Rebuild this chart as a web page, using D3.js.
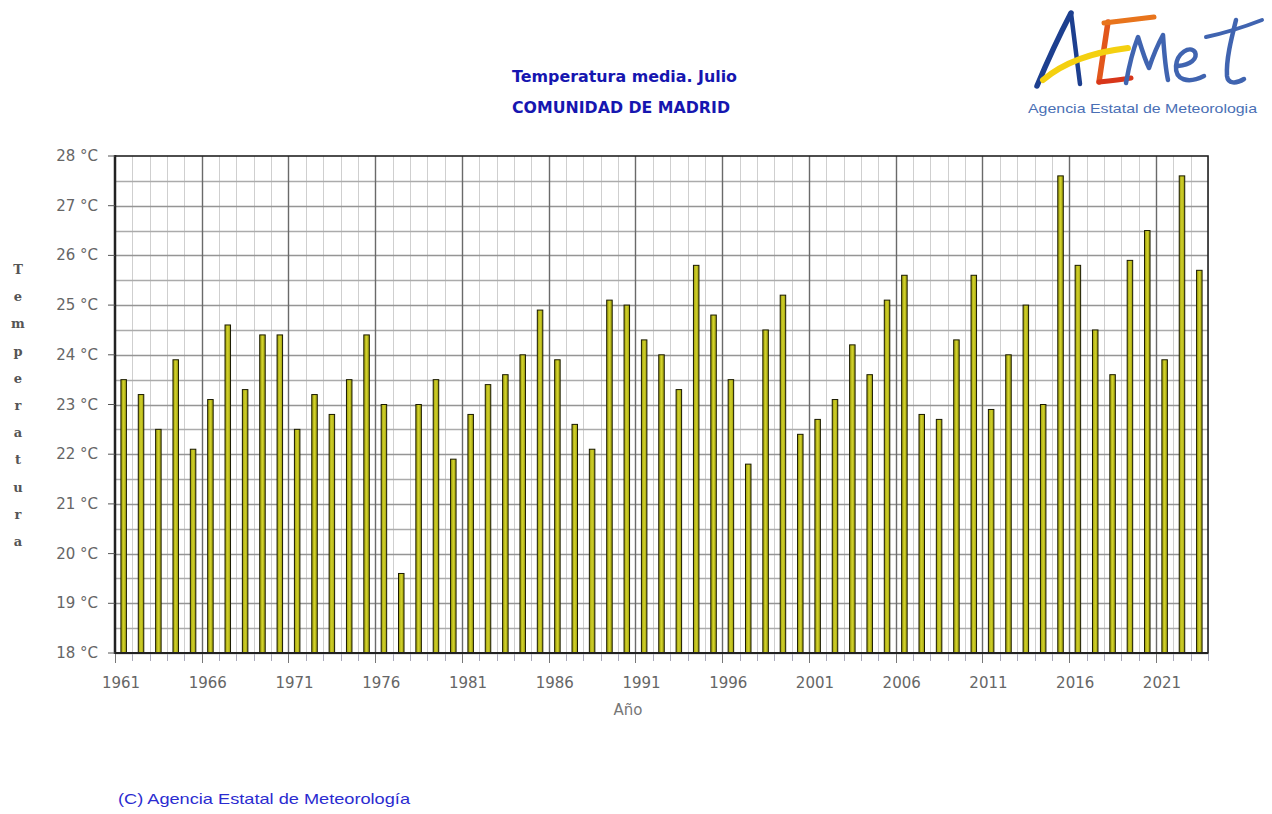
<!DOCTYPE html>
<html>
<head>
<meta charset="utf-8">
<script src="https://cdn.jsdelivr.net/npm/d3@7"></script>
<style>
  html, body { margin: 0; padding: 0; background: #fff; }
  svg { display: block; }
</style>
</head>
<body>
<svg id="chart" width="1272" height="814"></svg>
<script>
// ---- Data ----
const years = [1961,1962,1963,1964,1965,1966,1967,1968,1969,1970,
               1971,1972,1973,1974,1975,1976,1977,1978,1979,1980,
               1981,1982,1983,1984,1985,1986,1987,1988,1989,1990,
               1991,1992,1993,1994,1995,1996,1997,1998,1999,2000,
               2001,2002,2003,2004,2005,2006,2007,2008,2009,2010,
               2011,2012,2013,2014,2015,2016,2017,2018,2019,2020,
               2021,2022,2023];
const temps = [23.5,23.2,22.5,23.9,22.1,23.1,24.6,23.3,24.4,24.4,
               22.5,23.2,22.8,23.5,24.4,23.0,19.6,23.0,23.5,21.9,
               22.8,23.4,23.6,24.0,24.9,23.9,22.6,22.1,25.1,25.0,
               24.3,24.0,23.3,25.8,24.8,23.5,21.8,24.5,25.2,22.4,
               22.7,23.1,24.2,23.6,25.1,25.6,22.8,22.7,24.3,25.6,
               22.9,24.0,25.0,23.0,27.6,25.8,24.5,23.6,25.9,26.5,
               23.9,27.6,25.7];
const xTickLabels = ["1961","1966","1971","1976","1981","1986","1991","1996","2001","2006","2011","2016","2021"];
const yTickValues = [18,19,20,21,22,23,24,25,26,27,28];
const titleLines = ["Temperatura media. Julio", "COMUNIDAD DE MADRID"];
const yAxisTitle = "Temperatura";
const xAxisTitle = "Año";
const copyright = "(C) Agencia Estatal de Meteorología";

// ---- Layout ----
const svg = d3.select("#chart");
const L = 115, R = 1208, T = 156, B = 653;
const x = d3.scaleLinear().domain([1961, 2024]).range([L, R]);
const y = d3.scaleLinear().domain([18, 28]).range([B, T]);

svg.append("rect").attr("x", L).attr("y", T).attr("width", R - L).attr("height", B - T).attr("fill", "#fff");

// vertical grid (every year)
const allYearsEdges = years.concat([2024]);
svg.append("g").selectAll("line").data(allYearsEdges.filter(d => (d - 1961) % 5 !== 0))
  .join("line")
  .attr("x1", d => Math.round(x(d)) + 0.5).attr("x2", d => Math.round(x(d)) + 0.5)
  .attr("y1", T).attr("y2", B)
  .attr("stroke", "#cfcfcf").attr("stroke-width", 1);

// horizontal grid (every 0.5)
const hLines = d3.range(36, 56).map(d => d / 2);
svg.append("g").selectAll("line").data(hLines)
  .join("line")
  .attr("x1", L).attr("x2", R)
  .attr("y1", d => Math.round(y(d)) + 0.5).attr("y2", d => Math.round(y(d)) + 0.5)
  .attr("stroke", d => Number.isInteger(d) ? "#959595" : "#ababab")
  .attr("stroke-width", 1.5);

// major vertical grid (every 5 years)
svg.append("g").selectAll("line").data(allYearsEdges.filter(d => (d - 1961) % 5 === 0 && d !== 1961))
  .join("line")
  .attr("x1", d => Math.round(x(d)) + 0.5).attr("x2", d => Math.round(x(d)) + 0.5)
  .attr("y1", T).attr("y2", B)
  .attr("stroke", "#6a6a6a").attr("stroke-width", 1.4);

// gradient for bars
const defs = svg.append("defs");
const grad = defs.append("linearGradient").attr("id", "barGrad").attr("x1", "0").attr("x2", "1").attr("y1", "0").attr("y2", "0");
grad.append("stop").attr("offset", "0%").attr("stop-color", "#999908");
grad.append("stop").attr("offset", "50%").attr("stop-color", "#d2d22c");
grad.append("stop").attr("offset", "100%").attr("stop-color", "#999908");

// bars
const barW = 5.5;
svg.append("g").selectAll("rect").data(years.map((yr, i) => ({ yr, v: temps[i] })))
  .join("rect")
  .attr("x", d => x(d.yr + 0.5) - barW / 2)
  .attr("y", d => y(d.v))
  .attr("width", barW)
  .attr("height", d => y(18) - y(d.v))
  .attr("fill", "url(#barGrad)")
  .attr("stroke", "#1a1a00").attr("stroke-width", 1);

// frame
svg.append("rect").attr("x", L).attr("y", T).attr("width", R - L).attr("height", B - T)
  .attr("fill", "none").attr("stroke", "#222").attr("stroke-width", 1.6);
svg.append("line").attr("x1", L).attr("x2", L).attr("y1", T - 1).attr("y2", B + 1)
  .attr("stroke", "#222").attr("stroke-width", 2.5);
svg.append("line").attr("x1", L).attr("x2", R).attr("y1", B).attr("y2", B)
  .attr("stroke", "#222").attr("stroke-width", 2);

// x ticks (every year, major every 5)
svg.append("g").selectAll("line").data(allYearsEdges)
  .join("line")
  .attr("x1", d => Math.round(x(d)) + 0.5).attr("x2", d => Math.round(x(d)) + 0.5)
  .attr("y1", B + 1).attr("y2", d => (d - 1961) % 5 === 0 ? B + 10 : B + 8)
  .attr("stroke", d => (d - 1961) % 5 === 0 ? "#777" : "#aab")
  .attr("stroke-width", 1);

// x tick labels
svg.append("g").selectAll("text").data(xTickLabels)
  .join("text")
  .attr("x", d => x(+d) + 6)
  .attr("y", 688)
  .attr("text-anchor", "middle")
  .attr("font-family", "'DejaVu Sans', Verdana, sans-serif")
  .attr("font-size", 15)
  .attr("fill", "#666")
  .text(d => d);

// y ticks & labels
svg.append("g").selectAll("line").data(yTickValues)
  .join("line")
  .attr("x1", L - 7).attr("x2", L)
  .attr("y1", d => y(d)).attr("y2", d => y(d))
  .attr("stroke", "#555").attr("stroke-width", 1);
svg.append("g").selectAll("text").data(yTickValues)
  .join("text")
  .attr("x", 98)
  .attr("y", d => y(d) + 5)
  .attr("text-anchor", "end")
  .attr("font-family", "'DejaVu Sans', Verdana, sans-serif")
  .attr("font-size", 15)
  .attr("fill", "#666")
  .text(d => d + " °C");

// x axis title
svg.append("text").attr("x", 628).attr("y", 715).attr("text-anchor", "middle")
  .attr("font-family", "'DejaVu Sans', Verdana, sans-serif").attr("font-size", 15)
  .attr("fill", "#777").text(xAxisTitle);

// y axis title: stacked letters
svg.append("g").selectAll("text").data(yAxisTitle.split(""))
  .join("text")
  .attr("x", 18)
  .attr("y", (d, i) => 274 + i * 27.2)
  .attr("text-anchor", "middle")
  .attr("font-family", "'DejaVu Serif', 'Liberation Serif', serif")
  .attr("font-weight", "bold")
  .attr("font-size", 13)
  .attr("fill", "#555")
  .text(d => d);

// titles
svg.append("text").attr("x", 512).attr("y", 82)
  .attr("font-family", "'DejaVu Sans', Verdana, sans-serif").attr("font-weight", "bold")
  .attr("font-size", 16).attr("fill", "#1616b0")
  .attr("textLength", 225).attr("lengthAdjust", "spacingAndGlyphs")
  .text(titleLines[0]);
svg.append("text").attr("x", 512).attr("y", 113)
  .attr("font-family", "'DejaVu Sans', Verdana, sans-serif").attr("font-weight", "bold")
  .attr("font-size", 16).attr("fill", "#1616b0")
  .attr("textLength", 218).attr("lengthAdjust", "spacingAndGlyphs")
  .text(titleLines[1]);

// copyright
svg.append("text").attr("x", 118).attr("y", 804)
  .attr("font-family", "'Liberation Sans', Arial, sans-serif")
  .attr("font-size", 15).attr("fill", "#2b2bd0")
  .attr("textLength", 292).attr("lengthAdjust", "spacingAndGlyphs")
  .text(copyright);

// ---- AEMet logo ----
const logo = svg.append("g").attr("fill", "none").attr("stroke-linecap", "round").attr("stroke-linejoin", "round");
logo.append("path").attr("d", "M1037,86 C1047,62 1059,36 1071,13").attr("stroke", "#1d3f8f").attr("stroke-width", 5.5);
logo.append("path").attr("d", "M1071,13 C1074,38 1077,62 1080,84").attr("stroke", "#1d3f8f").attr("stroke-width", 4.5);
logo.append("path").attr("d", "M1108,22 C1105,42 1102,62 1099,82").attr("stroke", "#e2571c").attr("stroke-width", 5.5);
logo.append("path").attr("d", "M1104,23 C1120,21 1137,19 1154,17").attr("stroke", "#e8741c").attr("stroke-width", 5);
logo.append("path").attr("d", "M1099,82 C1110,81 1120,80 1131,78").attr("stroke", "#d8361a").attr("stroke-width", 5);
logo.append("path").attr("d", "M1043,80 C1064,62 1094,52 1128,48").attr("stroke", "#f4d010").attr("stroke-width", 6);
logo.append("path").attr("d", "M1126,83 C1129,66 1133,50 1138,37 C1142,50 1145,60 1149,68 C1153,56 1157,46 1163,35 C1164,50 1165,66 1168,80")
  .attr("stroke", "#4064b0").attr("stroke-width", 4.5);
logo.append("path").attr("d", "M1178,66 C1190,65 1198,59 1195,52 C1190,45 1177,53 1176,66 C1175,80 1188,84 1204,76")
  .attr("stroke", "#4064b0").attr("stroke-width", 4.5);
logo.append("path").attr("d", "M1236,20 C1231,40 1226,60 1227,76 C1228,84 1236,84 1244,79")
  .attr("stroke", "#4064b0").attr("stroke-width", 4.5);
logo.append("path").attr("d", "M1206,37 C1225,33 1244,27 1262,20")
  .attr("stroke", "#4064b0").attr("stroke-width", 4);
svg.append("text").attr("x", 1028).attr("y", 113)
  .attr("font-family", "'Liberation Sans', Arial, sans-serif").attr("font-size", 13)
  .attr("fill", "#4a6fb5")
  .attr("textLength", 229).attr("lengthAdjust", "spacingAndGlyphs")
  .text("Agencia Estatal de Meteorologia");
</script>
</body>
</html>
